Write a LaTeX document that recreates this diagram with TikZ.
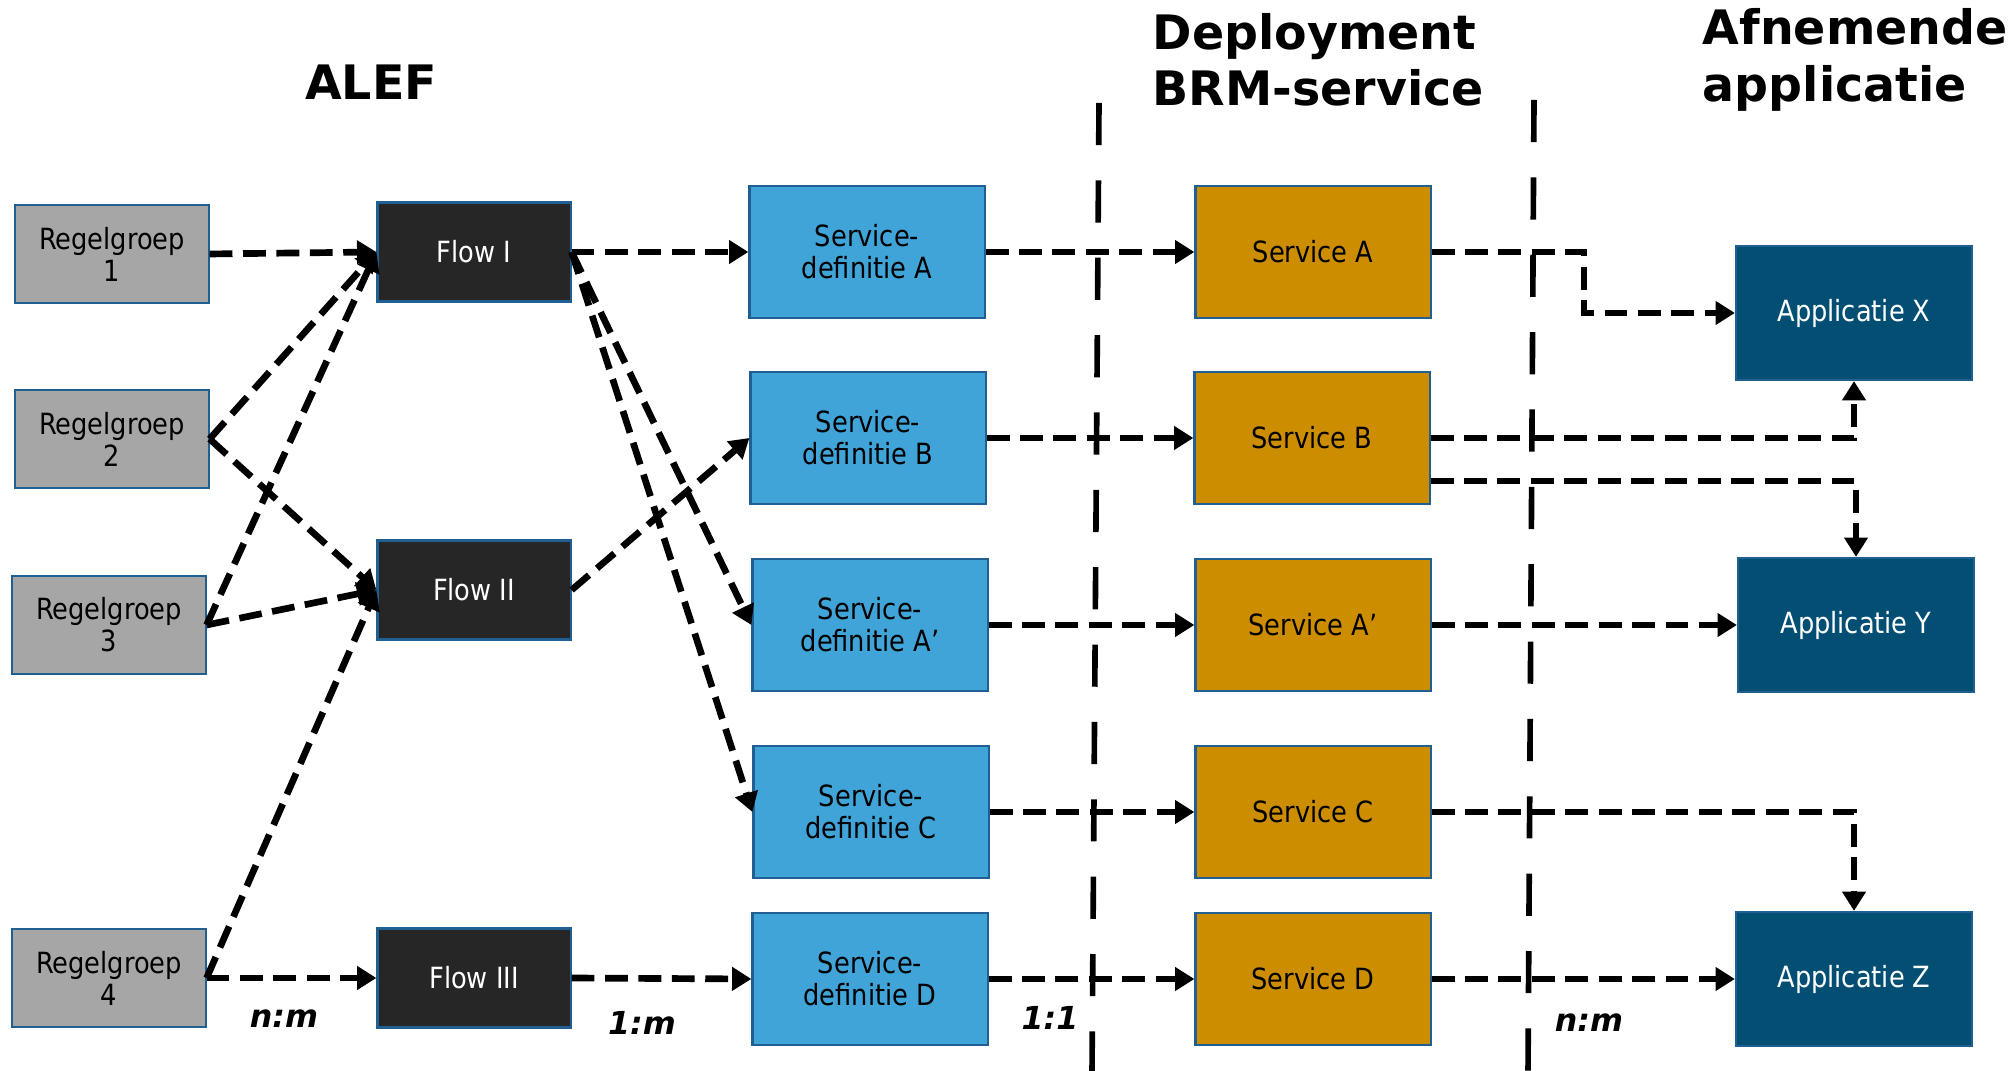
\documentclass[tikz,border=0pt]{standalone}
\usepackage{fontspec}
\setmainfont{DejaVu Sans}
\newfontfamily\smalfont{DejaVu Sans}[FakeStretch=0.88]
\usetikzlibrary{positioning, arrows.meta, calc}
\definecolor{grijs}{HTML}{A6A6A6}
\definecolor{zwart}{HTML}{262626}
\definecolor{lichtblauw}{HTML}{40A4D8}
\definecolor{oker}{HTML}{CC8E00}
\definecolor{donkerblauw}{HTML}{034F74}
\definecolor{rand}{HTML}{1F5F91}
\tikzset{blok/.style={rectangle,draw=rand,line width=0.6pt,inner sep=0,align=center,
		font=\smalfont\fontsize{8.3}{9.1}\selectfont},
	regel/.style={blok,fill=grijs,minimum width=1.93cm,minimum height=0.98cm},
	flow/.style={blok,fill=zwart,text=white,minimum width=1.93cm,minimum height=0.99cm},
	definitie/.style={blok,fill=lichtblauw,minimum width=2.35cm,minimum height=1.32cm},
	dienst/.style={blok,fill=oker,minimum width=2.35cm,minimum height=1.32cm},
	applicatie/.style={blok,fill=donkerblauw,text=white,minimum width=2.36cm,minimum height=1.34cm},
	pijl/.style={line width=1.9pt,dash pattern=on 6.5pt off 3pt,-{Triangle[length=5.5pt,width=6.5pt]}},
	grens/.style={line width=1.6pt,dash pattern=on 12pt off 10pt},
	titel/.style={font=\bfseries\fontsize{13.5}{16}\selectfont,align=left,inner sep=0},
	verhouding/.style={font=\bfseries\itshape\fontsize{9}{10}\selectfont} }

\begin{document}
\begin{tikzpicture}[x=0.01cm, y=-0.01cm]
	\useasboundingbox (0,0) rectangle (2013,1071);

	\node (alef) [titel] at (371,82) {ALEF};
	\node (deploy) [titel, anchor=west] at (1152,60) {Deployment\\BRM-service};
	\node (afnemer) [titel, anchor=west] at (1702,60) {Afnemende\\applicatie};

	\draw[grens] (1099,103) -- (1092,1071);
	\draw[grens] (1534,100) -- (1528,1071);

	\node (rg1) [regel] at (112,254) {Regelgroep\\1};
	\node (rg2) [regel] at (112,439) {Regelgroep\\2};
	\node (rg3) [regel] at (109,625) {Regelgroep\\3};
	\node (rg4) [regel] at (109,978) {Regelgroep\\4};

	\node (flow1) [flow] at (474,252) {Flow I};
	\node (flow2) [flow] at (474,590) {Flow II};
	\node (flow3) [flow] at (474,978) {Flow III};

	\node (sdA) [definitie] at (867,252) {Service-\\definitie A};
	\node (sdB) [definitie] at (868,438) {Service-\\definitie B};
	\node (sdA2) [definitie] at (870,625) {Service-\\definitie A’};
	\node (sdC) [definitie] at (871,812) {Service-\\definitie C};
	\node (sdD) [definitie] at (870,979) {Service-\\definitie D};

	\node (svA) [dienst] at (1313,252) {Service A};
	\node (svB) [dienst] at (1312,438) {Service B};
	\node (svA2) [dienst] at (1313,625) {Service A’};
	\node (svC) [dienst] at (1313,812) {Service C};
	\node (svD) [dienst] at (1313,979) {Service D};

	\node (appX) [applicatie] at (1854,313) {Applicatie X};
	\node (appY) [applicatie] at (1856,625) {Applicatie Y};
	\node (appZ) [applicatie] at (1854,979) {Applicatie Z};

	% regelgroepen naar flows
	\draw[pijl] (rg1.east) -- (flow1.west);
	\draw[pijl] (rg2.east) -- (flow1.west);
	\draw[pijl] (rg2.east) -- (flow2.west);
	\draw[pijl] (rg3.east) -- (flow1.west);
	\draw[pijl] (rg3.east) -- (flow2.west);
	\draw[pijl] (rg4.east) -- (flow2.west);
	\draw[pijl] (rg4.east) -- (flow3.west);

	% flows naar servicedefinities
	\draw[pijl] (flow1.east) -- (sdA.west);
	\draw[pijl] (flow1.east) -- (sdA2.west);
	\draw[pijl] (flow1.east) -- (sdC.west);
	\draw[pijl] (flow2.east) -- (sdB.west);
	\draw[pijl] (flow3.east) -- (sdD.west);

	\draw[pijl] (sdA.east) -- (svA.west);
	\draw[pijl] (sdB.east) -- (svB.west);
	\draw[pijl] (sdA2.east) -- (svA2.west);
	\draw[pijl] (sdC.east) -- (svC.west);
	\draw[pijl] (sdD.east) -- (svD.west);

	% services naar applicaties
	\coordinate (knikA) at (1584,252);
	\draw[pijl] (svA.east) -- (knikA) |- (appX.west);
	\draw[pijl] (svB.east) -| (appX.south);
	\draw[pijl] ([yshift=-0.43cm]svB.east) -| (appY.north);
	\draw[pijl] (svA2.east) -- (appY.west);
	\draw[pijl] (svC.east) -| (appZ.north);
	\draw[pijl] (svD.east) -- (appZ.west);

	\node (nm1) [verhouding] at (284,1019) {n:m};
	\node (em1) [verhouding] at (642,1023) {1:m};
	\node (ee1) [verhouding] at (1050,1018) {1:1};
	\node (nm2) [verhouding] at (1589,1023) {n:m};
\end{tikzpicture}
\end{document}
